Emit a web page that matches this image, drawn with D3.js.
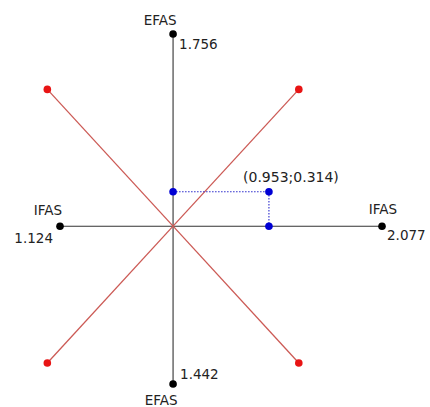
<!DOCTYPE html>
<html>
<head>
<meta charset="utf-8">
<script src="https://cdn.jsdelivr.net/npm/d3@7"></script>
<style>
  html, body { margin: 0; padding: 0; background: #ffffff; }
  svg { display: block; }
</style>
</head>
<body>
<div id="chart"></div>
<script>
(function () {
  "use strict";

  // Axis extents (values at the ends of each axis)
  const IFAS_MIN = 1.124;   // left end
  const IFAS_MAX = 2.077;   // right end
  const EFAS_MIN = 1.442;   // bottom end
  const EFAS_MAX = 1.756;   // top end

  // Point of interest (difference of the two axes)
  const POINT = [0.953, 0.314];
  const POINT_LABEL = "(0.953;0.314)";

  // Diagonal end points (red)
  const DIAGONALS = [[-1.25, 1.25], [1.25, 1.25], [-1.25, -1.25], [1.25, -1.25]];

  // Axis end labels
  const AXIS_ENDS = [
    { x: -IFAS_MIN, y: 0, name: "IFAS", value: "1.124", side: "left" },
    { x: IFAS_MAX, y: 0, name: "IFAS", value: "2.077", side: "right" },
    { x: 0, y: EFAS_MAX, name: "EFAS", value: "1.756", side: "top" },
    { x: 0, y: -EFAS_MIN, name: "EFAS", value: "1.442", side: "bottom" }
  ];

  const W = 430, H = 407;
  const FONT = "'DejaVu Sans', Verdana, sans-serif";

  const svg = d3.select("#chart").append("svg")
    .attr("width", W).attr("height", H);

  const x = d3.scaleLinear().domain([-IFAS_MIN, IFAS_MAX]).range([60, 382]);
  const y = d3.scaleLinear().domain([-EFAS_MIN, EFAS_MAX]).range([384, 34]);

  // Axes
  svg.append("line")
    .attr("x1", x(-IFAS_MIN)).attr("x2", x(IFAS_MAX))
    .attr("y1", y(0)).attr("y2", y(0))
    .attr("stroke", "#333").attr("stroke-width", 1.1);
  svg.append("line")
    .attr("x1", x(0)).attr("x2", x(0))
    .attr("y1", y(-EFAS_MIN)).attr("y2", y(EFAS_MAX))
    .attr("stroke", "#333").attr("stroke-width", 1.1);

  // Diagonals
  DIAGONALS.forEach(d => {
    svg.append("line")
      .attr("x1", x(0)).attr("y1", y(0))
      .attr("x2", x(d[0])).attr("y2", y(d[1]))
      .attr("stroke", "#cc5a55").attr("stroke-width", 1.3);
  });
  svg.selectAll("circle.diag").data(DIAGONALS).enter().append("circle")
    .attr("class", "diag")
    .attr("cx", d => x(d[0])).attr("cy", d => y(d[1])).attr("r", 3.8)
    .attr("fill", "#e81414");

  // Dotted projection lines of the point
  svg.append("path")
    .attr("d", d3.line()([[x(0), y(POINT[1])], [x(POINT[0]), y(POINT[1])], [x(POINT[0]), y(0)]]))
    .attr("fill", "none").attr("stroke", "#2a2acc").attr("stroke-width", 1.1)
    .attr("stroke-dasharray", "1.5,1.5");
  const bluePts = [[0, POINT[1]], POINT, [POINT[0], 0]];
  svg.selectAll("circle.blue").data(bluePts).enter().append("circle")
    .attr("class", "blue")
    .attr("cx", d => x(d[0])).attr("cy", d => y(d[1])).attr("r", 3.8)
    .attr("fill", "#0000d4");

  svg.append("text")
    .attr("x", x(POINT[0]) + 22).attr("y", y(POINT[1]) - 10)
    .attr("text-anchor", "middle")
    .attr("font-family", FONT).attr("font-size", "14px").attr("fill", "#222")
    .text(POINT_LABEL);

  // Axis end dots + labels
  AXIS_ENDS.forEach(a => {
    const px = x(a.x), py = y(a.y);
    svg.append("circle").attr("cx", px).attr("cy", py).attr("r", 3.8).attr("fill", "#000");
    const t = (tx, ty, anchor, txt) => svg.append("text")
      .attr("x", tx).attr("y", ty).attr("text-anchor", anchor)
      .attr("font-family", FONT).attr("font-size", "13.5px").attr("fill", "#222")
      .text(txt);
    if (a.side === "left") {
      t(px - 12, py - 11, "middle", a.name);
      t(px - 7, py + 17, "end", a.value);
    } else if (a.side === "right") {
      t(px + 1, py - 12, "middle", a.name);
      t(px + 5, py + 14, "start", a.value);
    } else if (a.side === "top") {
      t(px - 13, py - 9, "middle", a.name);
      t(px + 6, py + 15, "start", a.value);
    } else {
      t(px + 7, py - 5, "start", a.value);
      t(px - 12, py + 21, "middle", a.name);
    }
  });
})();
</script>
</body>
</html>
